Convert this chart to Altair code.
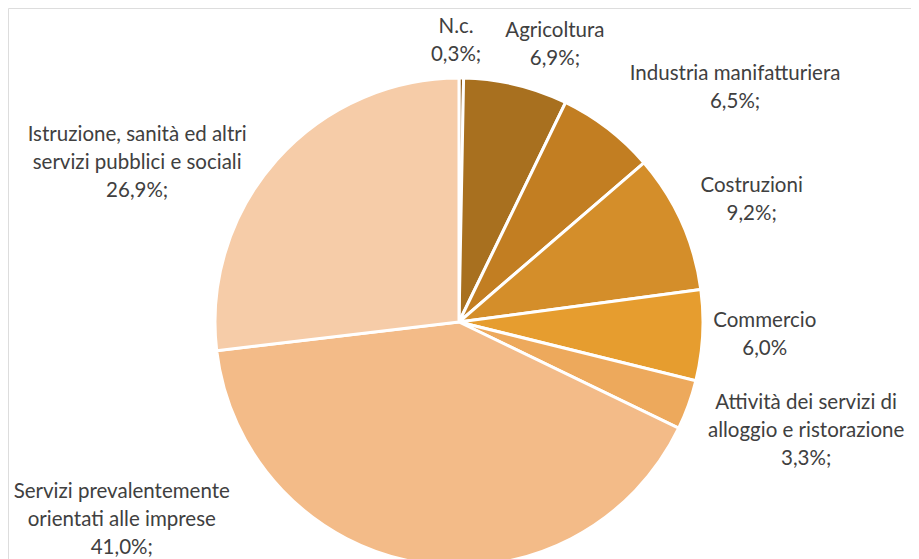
import altair as alt
import pandas as pd

categories = [
    "N.c.",
    "Agricoltura",
    "Industria manifatturiera",
    "Costruzioni",
    "Commercio",
    "Attività dei servizi di alloggio e ristorazione",
    "Servizi prevalentemente orientati alle imprese",
    "Istruzione, sanità ed altri servizi pubblici e sociali",
]
values = [0.3, 6.9, 6.5, 9.2, 6.0, 3.3, 41.0, 26.9]
value_labels = ["0,3%;", "6,9%;", "6,5%;", "9,2%;", "6,0%", "3,3%;", "41,0%;", "26,9%;"]
label_text = [
    "N.c.",
    "Agricoltura",
    "Industria manifatturiera",
    "Costruzioni",
    "Commercio",
    "Attività dei servizi di\nalloggio e ristorazione",
    "Servizi prevalentemente\norientati alle imprese",
    "Istruzione, sanità ed altri\nservizi pubblici e sociali",
]
colors = ["#8E5A17", "#A8701F", "#C27E22", "#D48E2A", "#E69D2F", "#EDA95C", "#F3BB88", "#F6CCA8"]

# label placement (polar, degrees clockwise from 12 o'clock, pixels)
label_angle = [-0.6, 19.1, 49.7, 67.4, 92.4, 107.5, 239.6, 296.3]
label_radius = [281, 293, 362, 317, 306, 364, 391, 359]

df = pd.DataFrame({
    "categoria": categories,
    "valore": values,
    "idx": list(range(len(categories))),
    "etichetta": [f"{t}\n{v}" for t, v in zip(label_text, value_labels)],
    "righe": [t.count("\n") + 2 for t in label_text],
    "lab_angle": label_angle,
    "lab_r": label_radius,
})

CX, CY, R = 451, 314, 244
LH = 28

pie = alt.Chart(df).mark_arc(outerRadius=R, stroke="white", strokeWidth=3).encode(
    theta=alt.Theta("valore:Q", stack=True),
    order=alt.Order("idx:Q"),
    color=alt.Color("categoria:N", scale=alt.Scale(domain=categories, range=colors), sort=None, legend=None),
    x=alt.value(CX),
    y=alt.value(CY),
)


def label_layer(n):
    return alt.Chart(df).transform_filter(alt.datum.righe == n).mark_text(
        font="Lato", fontSize=20.5, lineHeight=LH, lineBreak="\n",
        align="center", baseline="middle", color="#404040",
        dy=-(n - 1) * LH / 2,
    ).encode(
        theta=alt.Theta("lab_angle:Q", stack=None, scale=alt.Scale(domain=[0, 360], range=[0, 6.283185307])),
        radius=alt.Radius("lab_r:Q", scale=None),
        text="etichetta:N",
        x=alt.value(CX),
        y=alt.value(CY),
    )


chart = alt.layer(pie, label_layer(2), label_layer(3)).resolve_scale(theta="independent").properties(
    width=903, height=551, padding=0,
    autosize=alt.AutoSizeParams(type="none"),
).configure_view(stroke=None).configure(background="white")

chart.save("out.html", embed_options={"renderer": "svg", "actions": False})
